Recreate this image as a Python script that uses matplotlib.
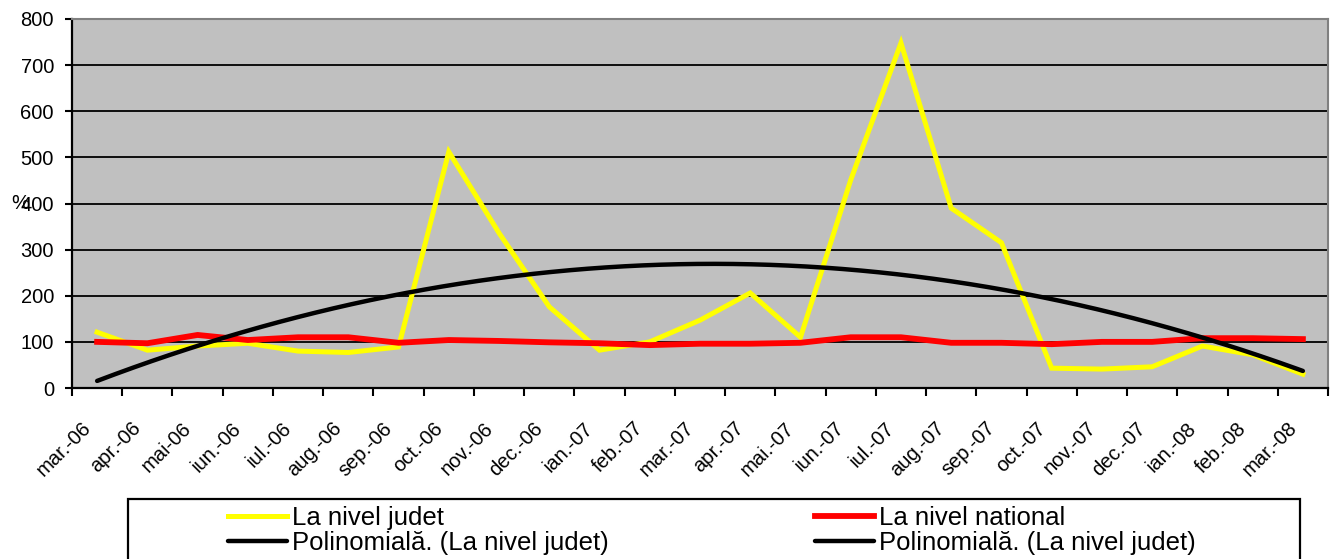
import numpy as np
import matplotlib
matplotlib.use("Agg")
import matplotlib.pyplot as plt
import matplotlib.transforms as mtransforms
from matplotlib.patches import Rectangle

plt.rcParams['font.family'] = ['Liberation Sans', 'DejaVu Sans']

months = ["mar.-06", "apr.-06", "mai-06", "iun.-06", "iul.-06", "aug.-06",
          "sep.-06", "oct.-06", "nov.-06", "dec.-06", "ian.-07", "feb.-07",
          "mar.-07", "apr.-07", "mai.-07", "iun.-07", "iul.-07", "aug.-07",
          "sep.-07", "oct.-07", "nov.-07", "dec.-07", "ian.-08", "feb.-08",
          "mar.-08"]

# La nivel judet
judet = [121, 82, 91, 97, 80, 77, 89, 512, 336, 176, 82, 100, 147,
         206, 110, 451, 748, 390, 315, 43, 41, 46, 91, 72, 30]
# La nivel national
national = [100, 97, 115, 104, 110, 110, 98, 104, 102, 99, 97, 93, 96,
            96, 98, 110, 110, 98, 98, 95, 100, 100, 108, 108, 106]

W, H = 1335, 559
fig = plt.figure(figsize=(W / 100, H / 100), dpi=100)
ax = fig.add_axes([72 / W, 1 - 388 / H, (1328 - 72) / W, (388 - 19) / H])
ax.set_facecolor('#C0C0C0')

x = np.arange(len(months))
ax.plot(x, judet, color='#FFFF00', lw=3.6, zorder=3, solid_joinstyle='miter',
        label='La nivel judet')
ax.plot(x, national, color='#FF0000', lw=4.2, zorder=4, label='La nivel national')

# polynomial (order 2) trendline of the county series
coef = np.polyfit(x, judet, 2)
xs = np.linspace(0, len(months) - 1, 200)
trend, = ax.plot(xs, np.polyval(coef, xs), color='black', lw=3.2, zorder=5,
                 solid_capstyle='round', label='Polinomială. (La nivel judet)')

ax.set_xlim(-0.5, len(months) - 0.5)
ax.set_ylim(0, 800)
ax.set_yticks(range(0, 801, 100))
ax.yaxis.grid(True, color='black', lw=1.3)
ax.set_axisbelow(True)

ax.set_xticks(np.arange(-0.5, len(months), 1.0))
ax.set_xticklabels([])
ax.set_xticks(x, minor=True)
ax.set_xticklabels(months, minor=True, rotation=45, ha='right',
                   rotation_mode='anchor', fontsize=14.5)
ax.tick_params(axis='x', which='major', direction='out', length=6, width=1.5,
               color='black')
ax.tick_params(axis='x', which='minor', length=0, pad=22)
ax.tick_params(axis='y', direction='out', length=5, width=1.5, pad=8,
               labelsize=14.5)

# shift the slanted month labels a bit to the left
shift = mtransforms.ScaledTranslation(-16 / 100, 0, fig.dpi_scale_trans)
for lab in ax.get_xticklabels(minor=True):
    lab.set_transform(lab.get_transform() + shift)

for s in ('left', 'bottom'):
    ax.spines[s].set_color('black')
    ax.spines[s].set_linewidth(1.6)
for s in ('top', 'right'):
    ax.spines[s].set_color('#808080')
    ax.spines[s].set_linewidth(1.5)

fig.text(11 / W, 1 - 204 / H, '%', fontsize=14.5, ha='left', va='center')

# legend box, cut off by the bottom of the picture
fig.patches.append(Rectangle((128 / W, -0.2), (1300 - 128) / W, 1 - 499 / H + 0.2,
                             transform=fig.transFigure, fill=False,
                             edgecolor='black', lw=1.6))

h = ax.get_lines()
leg_kw = dict(frameon=False, loc='upper left', fontsize=18.5, borderpad=0,
              borderaxespad=0, handlelength=2.3, handletextpad=0.2,
              labelspacing=0.04)
fig.legend([h[0], trend], ['La nivel judet', 'Polinomială. (La nivel judet)'],
           bbox_to_anchor=(228 / W, 1 - 506 / H), **leg_kw)
fig.legend([h[1], trend], ['La nivel national', 'Polinomială. (La nivel judet)'],
           bbox_to_anchor=(815 / W, 1 - 506 / H), **leg_kw)

fig.savefig('out.png', dpi=100)
